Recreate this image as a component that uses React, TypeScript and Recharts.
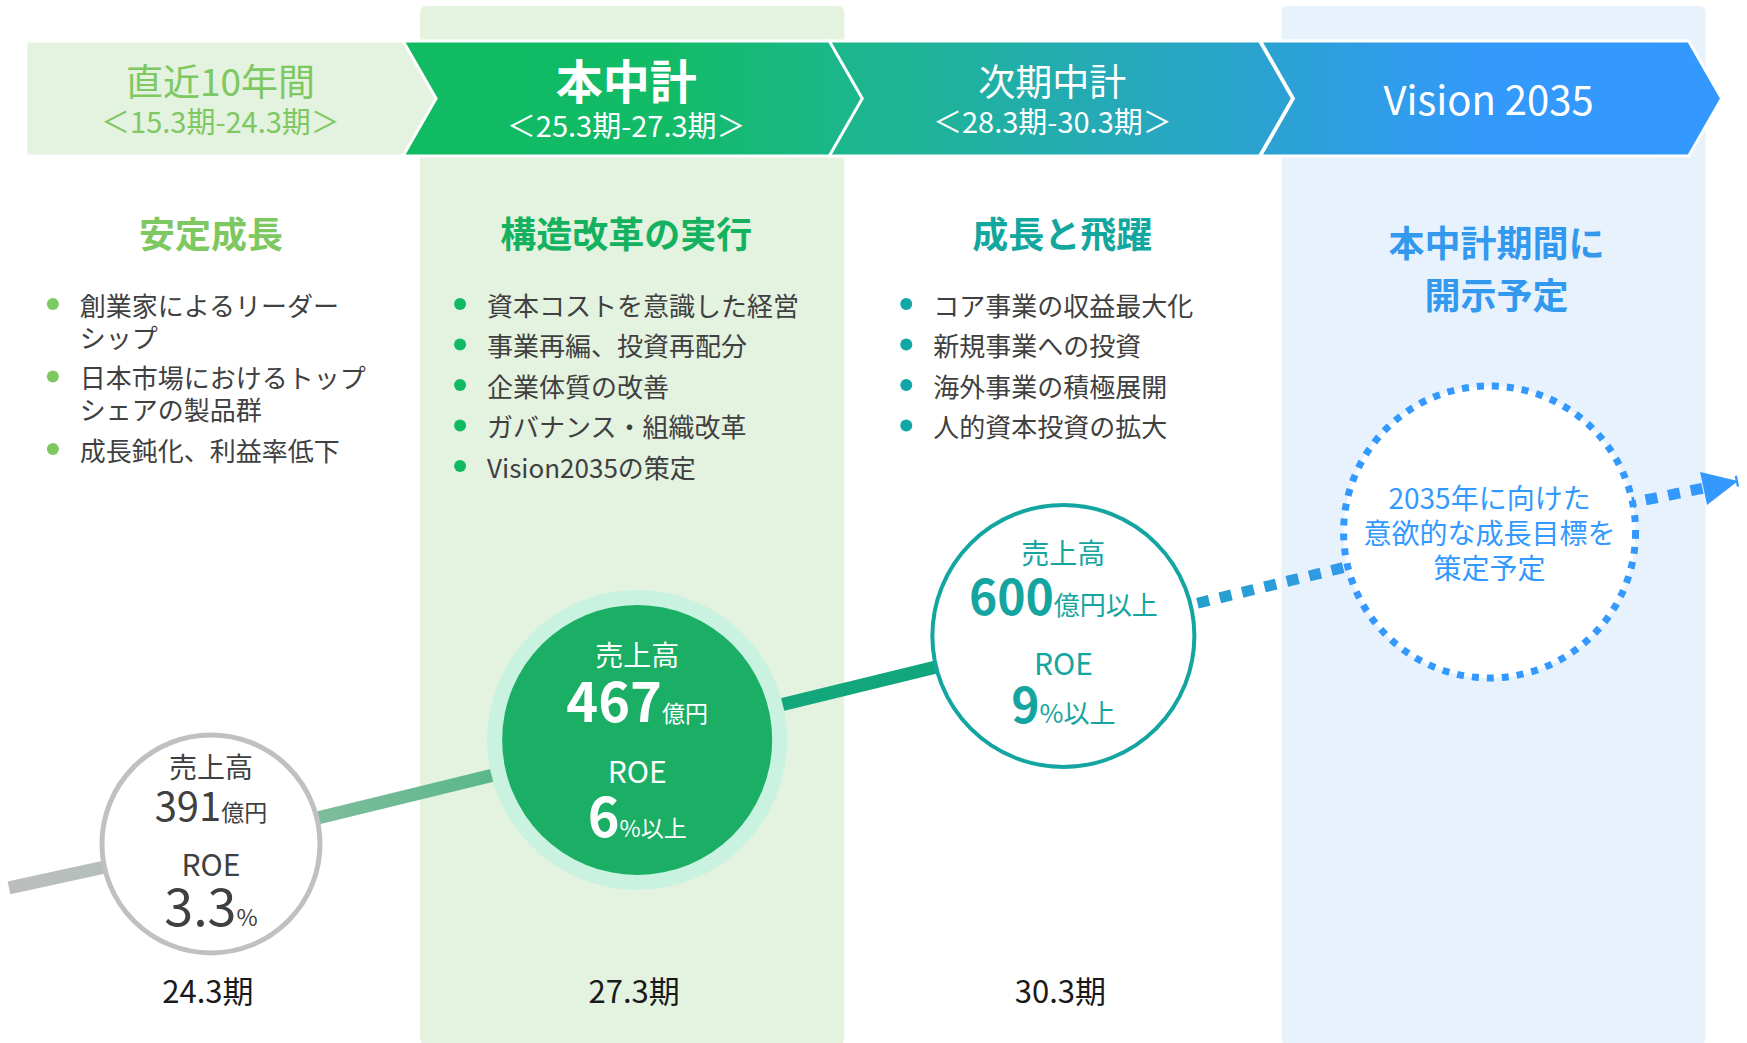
import { ComposedChart, Line, ReferenceArea, Scatter, XAxis, YAxis } from "recharts";

// milestones (one per column)
const periods = ["24.3期", "27.3期", "30.3期", "Vision 2035"];
const revenue = [391, 467, 600, null];
const revenueUnit = ["億円", "億円", "億円以上", ""];
const roe = [3.3, 6, 9, null];
const roeUnit = ["%", "%以上", "%以上", ""];
// schematic growth step, not a measured value
const growthStep = [1, 2, 3, 4];
const visionNote = ["2035年に向けた", "意欲的な成長目標を", "策定予定"];

// trend line: lead-in, milestones, arrow tip
const trendIdx = [-0.474, 0, 1, 2, 3, 3.583];
const actualTrend = [0.577, 1, 2, 3, null, null];
const outlookTrend = [null, null, null, 3, 4, 4.49];

// header + column texts
const headerTitles = ["直近10年間", "本中計", "次期中計", "Vision 2035"];
const headerRanges = ["＜15.3期-24.3期＞", "＜25.3期-27.3期＞", "＜28.3期-30.3期＞", ""];
const themeTitles = [["安定成長"], ["構造改革の実行"], ["成長と飛躍"], ["本中計期間に", "開示予定"]];
const pastPoints = [["創業家によるリーダー", "シップ"], ["日本市場におけるトップ", "シェアの製品群"], ["成長鈍化、利益率低下"]];
const planPoints = [["資本コストを意識した経営"], ["事業再編、投資再配分"], ["企業体質の改善"], ["ガバナンス・組織改革"], ["Vision2035の策定"]];
const nextPoints = [["コア事業の収益最大化"], ["新規事業への投資"], ["海外事業の積極展開"], ["人的資本投資の拡大"]];
const columnPoints = [pastPoints, planPoints, nextPoints, []];

const FONT = '"Noto Sans CJK JP", "Noto Sans", sans-serif';
const themeColor = ["#7ec862", "#14b25f", "#12a79e", "#3399ee"];
const dotColor = ["#7ec862", "#0fba62", "#12a6a6"];
const bulletIndent = [55, 36, 56];
const titleShift = [0, -11, -1, 7];
const textGray = "#404040";
const AXIS_H = 60;

const trendRows = trendIdx.map((idx, i) => ({
  idx,
  actual: actualTrend[i],
  outlook: outlookTrend[i],
}));

const milestones = periods.map((period, i) => ({
  idx: i,
  step: growthStep[i],
  period,
  revenue: revenue[i],
  roe: roe[i],
}));

function ColumnBg(props: any) {
  const { x, y, width, height, col } = props;
  const fill = col === 1 ? "#e4f2e0" : "#e8f2fd";
  const dx = col === 1 ? -4 : 5;
  return <rect x={x + dx} y={y + 6} width={width - 2} height={height + AXIS_H - 4} rx={6} fill={fill} />;
}

function ColumnContent(props: any) {
  const { x, width, col } = props;
  const top = 41;
  const bottom = 156;
  const mid = (top + bottom) / 2;
  const L = col === 0 ? x + 28 : col === 3 ? x - 16 : x - 21;
  const R = x + width - (col === 3 ? 14 : 17);
  const tip = R + 33;
  const pts =
    col === 0
      ? `${L},${top} ${R},${top} ${tip},${mid} ${R},${bottom} ${L},${bottom}`
      : `${L},${top} ${R},${top} ${tip},${mid} ${R},${bottom} ${L},${bottom} ${L + 33},${mid}`;
  const hx = (L + R) / 2 + (col === 0 ? 4 : 8);
  const headColor = col === 0 ? "#7ec862" : "#fff";
  const cx = x + width / 2 + titleShift[col];

  const lines: { text: string; y: number; first: boolean }[] = [];
  let yy = 304;
  columnPoints[col].forEach((item) => {
    item.forEach((t, j) => {
      lines.push({ text: t, y: yy, first: j === 0 });
      yy += j < item.length - 1 ? 32 : 40.5;
    });
  });

  return (
    <g style={{ fontFamily: FONT }}>
      <polygon points={pts} fill={col === 0 ? "#e4f2e0" : "url(#headerGrad)"} stroke="#fff" strokeWidth={3} />
      {col === 3 ? (
        <text x={hx + 6} y={98} fontSize={40} fill="#fff" textAnchor="middle" dominantBaseline="central">
          {headerTitles[col]}
        </text>
      ) : (
        <>
          <text
            x={hx}
            y={col === 1 ? 78 : 80}
            fontSize={col === 1 ? 47 : 37}
            fontWeight={col === 1 ? 700 : 400}
            fill={headColor}
            textAnchor="middle"
            dominantBaseline="central"
          >
            {headerTitles[col]}
          </text>
          <text x={hx} y={col === 1 ? 124 : 120} fontSize={29} fill={headColor} textAnchor="middle" dominantBaseline="central">
            {headerRanges[col]}
          </text>
        </>
      )}
      {themeTitles[col].map((t, k) => (
        <text
          key={t}
          x={cx}
          y={col === 3 ? 241 + k * 52 : 232}
          fontSize={36}
          fontWeight={700}
          fill={themeColor[col]}
          textAnchor="middle"
          dominantBaseline="central"
        >
          {t}
        </text>
      ))}
      {lines.map((ln) => (
        <g key={ln.text}>
          {ln.first && <circle cx={x + bulletIndent[col]} cy={ln.y} r={6} fill={dotColor[col]} />}
          <text x={x + bulletIndent[col] + 27} y={ln.y} fontSize={26} fill={textGray} dominantBaseline="central">
            {ln.text}
          </text>
        </g>
      ))}
    </g>
  );
}

function PeriodTick(props: any) {
  const { x, y, payload } = props;
  return (
    <text
      x={x - 3}
      y={y - 2}
      fontSize={31}
      fill="#1a1a1a"
      textAnchor="middle"
      dominantBaseline="central"
      style={{ fontFamily: FONT }}
    >
      {periods[payload.value]}
    </text>
  );
}

function Milestone(props: any) {
  const { cx, cy, payload } = props;
  const i = payload.idx;
  if (i === 3) {
    return (
      <g style={{ fontFamily: FONT }}>
        <circle cx={cx} cy={cy} r={146} fill="#fff" stroke="#3399ff" strokeWidth={7} strokeDasharray="7 8" />
        {visionNote.map((t, k) => (
          <text key={t} x={cx} y={cy - 35 + k * 35} fontSize={28} fill="#3399ff" textAnchor="middle" dominantBaseline="central">
            {t}
          </text>
        ))}
      </g>
    );
  }
  const color = i === 0 ? textGray : i === 1 ? "#fff" : "#14a5a0";
  const bold = i === 0 ? 400 : 700;
  const off = i === 0 ? [-78, -37, 19, 63] : i === 1 ? [-86, -37, 30, 78] : [-84, -38, 26, 70];
  const numSize = i === 0 ? 40 : i === 1 ? 54 : 48;
  const roeSize = i === 0 ? 52 : i === 1 ? 54 : 48;
  const unitSize = i === 2 ? 26 : 23;
  return (
    <g style={{ fontFamily: FONT }}>
      {i === 0 && <circle cx={cx} cy={cy} r={109} fill="#fff" stroke="#c0c0c0" strokeWidth={5} />}
      {i === 1 && (
        <>
          <circle cx={cx} cy={cy} r={150} fill="#c9f3e0" />
          <circle cx={cx} cy={cy} r={135} fill="#1bae65" />
        </>
      )}
      {i === 2 && <circle cx={cx} cy={cy} r={131} fill="#fff" stroke="#14a5a0" strokeWidth={4} />}
      <text x={cx} y={cy + off[0]} fontSize={28} fill={color} textAnchor="middle" dominantBaseline="central">
        売上高
      </text>
      <text x={cx} y={cy + off[1] + numSize * 0.36} fill={color} textAnchor="middle">
        <tspan fontSize={numSize} fontWeight={bold}>
          {payload.revenue}
        </tspan>
        <tspan fontSize={unitSize}>{revenueUnit[i]}</tspan>
      </text>
      <text x={cx} y={cy + off[2]} fontSize={30} fill={color} textAnchor="middle" dominantBaseline="central">
        ROE
      </text>
      <text x={cx} y={cy + off[3] + roeSize * 0.36} fill={color} textAnchor="middle">
        <tspan fontSize={roeSize} fontWeight={bold}>
          {payload.roe}
        </tspan>
        <tspan fontSize={unitSize}>{roeUnit[i]}</tspan>
      </text>
    </g>
  );
}

function ArrowDot(props: any) {
  const { cx, cy, index } = props;
  if (index !== trendIdx.length - 1 || cx == null) return <g key={`d-${index}`} />;
  return (
    <polygon
      key={`d-${index}`}
      points={`${cx},${cy} ${cx - 38},${cy - 9} ${cx - 31},${cy + 24}`}
      fill="#3399ff"
    />
  );
}

export default function App() {
  return (
    <div
      style={{
        position: "absolute",
        left: 0,
        top: 0,
        width: 1747,
        height: 1043,
        background: "#fff",
        fontFamily: FONT,
      }}
    >
      <ComposedChart width={1747} height={1043} data={trendRows} margin={{ top: 0, right: 0, bottom: 0, left: 0 }}>
        <defs>
          <linearGradient id="headerGrad" gradientUnits="userSpaceOnUse" x1={403} y1={0} x2={1721} y2={0}>
            <stop offset="0" stopColor="#10bb63" />
            <stop offset="0.2" stopColor="#12bb67" />
            <stop offset="0.33" stopColor="#1bb78a" />
            <stop offset="0.66" stopColor="#2ba2d2" />
            <stop offset="0.82" stopColor="#3399fb" />
            <stop offset="1" stopColor="#3399ff" />
          </linearGradient>
          <linearGradient id="trendSolid" x1="0" y1="0" x2="1" y2="0">
            <stop offset="0" stopColor="#bcbdbd" />
            <stop offset="0.1" stopColor="#b3bfb9" />
            <stop offset="0.3" stopColor="#7dbc9b" />
            <stop offset="0.47" stopColor="#57b789" />
            <stop offset="0.73" stopColor="#14a77b" />
            <stop offset="1" stopColor="#0fa47f" />
          </linearGradient>
          <linearGradient id="trendFuture" x1="0" y1="0" x2="1" y2="0">
            <stop offset="0" stopColor="#1ba5b0" />
            <stop offset="0.2" stopColor="#24a0cc" />
            <stop offset="0.45" stopColor="#3399ee" />
            <stop offset="1" stopColor="#3399ff" />
          </linearGradient>
        </defs>
        <XAxis
          dataKey="idx"
          type="number"
          domain={[-0.495, 3.604]}
          ticks={[0, 1, 2]}
          interval={0}
          height={AXIS_H}
          axisLine={false}
          tickLine={false}
          tick={<PeriodTick />}
        />
        <YAxis type="number" domain={[-0.337, 9.115]} hide />
        {[1, 3].map((c) => (
          <ReferenceArea
            key={`bg-${c}`}
            x1={c - 0.5}
            x2={c + 0.5}
            ifOverflow="visible"
            shape={(p: any) => <ColumnBg {...p} col={c} />}
          />
        ))}
        {[0, 1, 2, 3].map((c) => (
          <ReferenceArea
            key={`col-${c}`}
            x1={c - 0.5}
            x2={c + 0.5}
            ifOverflow="visible"
            shape={(p: any) => <ColumnContent {...p} col={c} />}
          />
        ))}
        <Line
          dataKey="actual"
          stroke="url(#trendSolid)"
          strokeWidth={13}
          dot={false}
          activeDot={false}
          isAnimationActive={false}
        />
        <Line
          dataKey="outlook"
          stroke="url(#trendFuture)"
          strokeWidth={11}
          strokeDasharray="12 11"
          dot={(p: any) => <ArrowDot {...p} />}
          activeDot={false}
          isAnimationActive={false}
        />
        <Scatter data={milestones} dataKey="step" shape={(p: any) => <Milestone {...p} />} isAnimationActive={false} />
      </ComposedChart>
    </div>
  );
}
